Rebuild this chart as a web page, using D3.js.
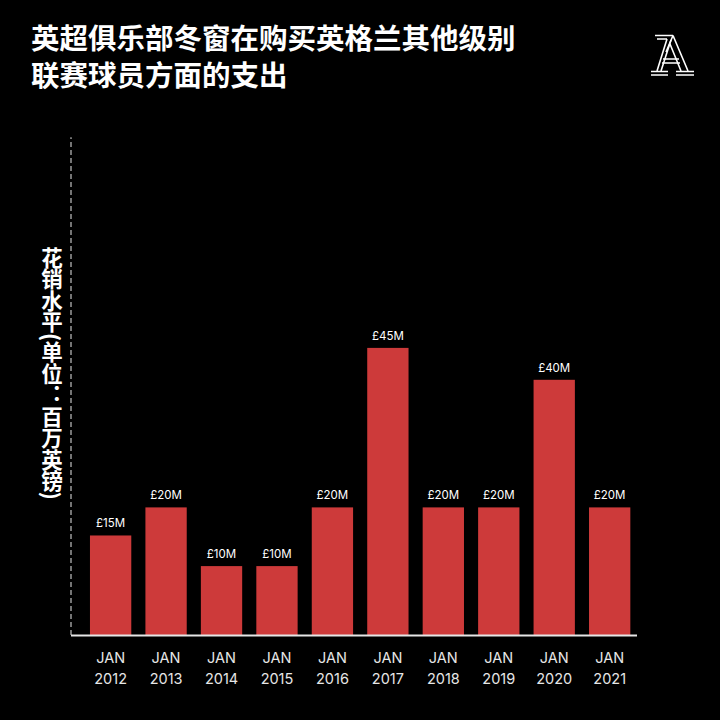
<!DOCTYPE html>
<html>
<head>
<meta charset="utf-8">
<script src="https://cdn.jsdelivr.net/npm/d3@7"></script>
<style>
  html, body { margin: 0; padding: 0; background: #000; }
  svg { display: block; }
</style>
</head>
<body>
<div id="vis"></div>
<script>
// chart data
const years = ['2012', '2013', '2014', '2015', '2016', '2017', '2018', '2019', '2020', '2021']
const monthLabel = 'JAN'
const spend = [15.6, 20, 10.8, 10.8, 20, 45, 20, 20, 40, 20] // £M
const spendLabels = ['£15M', '£20M', '£10M', '£10M', '£20M', '£45M', '£20M', '£20M', '£40M', '£20M']
const titleLines = ['英超俱乐部冬窗在购买英格兰其他级别', '联赛球员方面的支出']
const yTitle = '花销水平(单位：百万英镑)'

const W = 720, H = 720
const baseY = 635
const axisX = 71
const barColor = '#cd3a3a'
const latinFont = 'Inter, "Liberation Sans", sans-serif'
const cjkFont = '"Noto Sans CJK SC", sans-serif'

const data = years.map((y, i) => ({ year: y, value: spend[i], label: spendLabels[i] }))

const svg = d3.select('#vis')
    .append('svg')
    .attr('width', W)
    .attr('height', H)

svg.append('rect')
    .attr('width', W)
    .attr('height', H)
    .attr('fill', '#000')

// scales
const xScale = d3.scaleBand()
    .domain(years)
    .range([82.9, 637.4])
    .paddingInner(0.255)
    .paddingOuter(0.1275)

const yScale = d3.scaleLinear()
    .domain([0, 78])
    .range([baseY, baseY - 78 * 6.38])

// title
svg.append('g')
    .selectAll('text')
    .data(titleLines)
    .join('text')
    .attr('x', 31)
    .attr('y', (d, i) => 49 + i * 36.5)
    .attr('fill', '#fff')
    .style('font-family', cjkFont)
    .style('font-weight', 700)
    .style('font-size', '28.5px')
    .text(d => d)

// logo (The Athletic style A)
const logo = svg.append('g')
    .attr('fill', 'none')
    .attr('stroke', '#fff')
    .attr('stroke-width', 1.6)
logo.append('path').attr('d', 'M655,35.5 H673 M657,39 H667')
logo.append('path').attr('d', 'M667,39 L657,71 M671,40 L661,71')
logo.append('path').attr('d', 'M673,35.5 L688,71 M673,35.5 L666,52 M681,71 L670,44')
logo.append('path').attr('d', 'M663,59 H679 M662,63 H680')
logo.append('path').attr('d', 'M651,71.5 H668 M651,75 H668 M676,71.5 H694 M676,75 H694')

// dashed y axis
svg.append('line')
    .attr('x1', axisX).attr('x2', axisX)
    .attr('y1', yScale(0)).attr('y2', yScale(78))
    .attr('stroke', '#9a9a9a')
    .attr('stroke-width', 1.5)
    .attr('stroke-dasharray', '5,3')

// y axis title, vertical writing
svg.append('text')
    .attr('x', 52)
    .attr('y', 247)
    .attr('fill', '#fff')
    .style('writing-mode', 'vertical-rl')
    .style('font-family', cjkFont)
    .style('font-weight', 700)
    .style('font-size', '21.5px')
    .text(yTitle)

// bars
svg.selectAll('.bar')
    .data(data)
    .join('rect')
    .attr('class', 'bar')
    .attr('x', d => xScale(d.year))
    .attr('y', d => yScale(d.value))
    .attr('width', xScale.bandwidth())
    .attr('height', d => yScale(0) - yScale(d.value))
    .attr('fill', barColor)

// value labels
svg.selectAll('.vlabel')
    .data(data)
    .join('text')
    .attr('class', 'vlabel')
    .attr('x', d => xScale(d.year) + xScale.bandwidth() / 2)
    .attr('y', d => yScale(d.value) - 8)
    .attr('text-anchor', 'middle')
    .attr('fill', '#fff')
    .style('font-family', latinFont)
    .style('font-size', '11.5px')
    .text(d => d.label)

// x axis
const xAxis = svg.append('g')
    .attr('transform', `translate(0,${baseY})`)
    .call(d3.axisBottom(xScale).tickSize(0).tickFormat(''))
xAxis.select('.domain').remove()

xAxis.selectAll('.tick text')
    .attr('y', 0)
    .attr('dy', null)
    .attr('fill', '#e6e6e6')
    .style('font-family', latinFont)
    .style('font-size', '14.5px')
    .each(function (d) {
        const t = d3.select(this)
        t.append('tspan').attr('x', 0).attr('y', 28).text(monthLabel)
        t.append('tspan').attr('x', 0).attr('y', 49).text(d)
    })

svg.append('line')
    .attr('x1', axisX).attr('x2', 637)
    .attr('y1', baseY + 0.5).attr('y2', baseY + 0.5)
    .attr('stroke', '#e6e6e6')
    .attr('stroke-width', 2)
</script>
</body>
</html>
